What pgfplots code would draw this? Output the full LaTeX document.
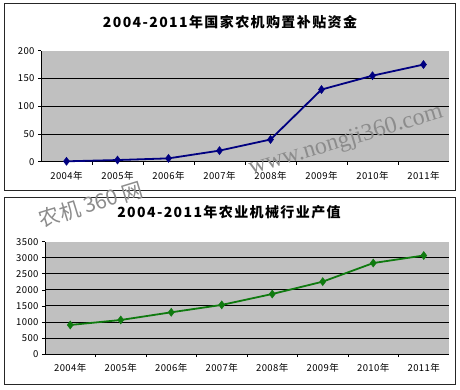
\documentclass[border=0pt]{standalone}
\usepackage{pgfplots}
\pgfplotsset{compat=1.18}
\usepackage{fontspec}
\setmainfont{Liberation Sans}
\newfontfamily\cjk{Noto Sans CJK SC}
\newfontfamily\cjktitle{Noto Sans CJK SC}[LetterSpace=10]
\newfontfamily\cjktick{Noto Sans CJK SC}[LetterSpace=4]
\newfontfamily\wmfont{Liberation Serif}
\definecolor{plotbg}{HTML}{C0C0C0}
\definecolor{navy}{HTML}{000080}
\definecolor{dgreen}{HTML}{0F7A0F}
\pgfplotsset{
  barebase/.style={
    scale only axis,
    axis background/.style={fill=plotbg},
    axis x line*=bottom, axis y line*=left,
    axis line style={black, line width=0.8pt},
    xmin=-0.5, xmax=7.5,
    xtick={0,...,7},
    xticklabels={2004年,2005年,2006年,2007年,2008年,2009年,2010年,2011年},
    major x tick style={draw=none},
    minor xtick={0.5,1.5,...,6.5},
    minor tick length=3pt,
    tick align=outside,
    major tick length=3pt,
    tick style={black, line width=0.6pt},
    tick label style={font=\cjktick\fontsize{9.5}{11}\selectfont},
    /pgf/number format/assume math mode=true,
    /pgf/number format/1000 sep={},
    extra y tick labels={},
    extra y tick style={grid=major, major tick length=0pt, tick style={draw=none}},
    major grid style={black, line width=0.8pt},
    xticklabel style={yshift=-3pt},
    clip=false,
  }
}
\begin{document}
\begin{tikzpicture}
\useasboundingbox (0,0) rectangle (460pt,389pt);
% frames
\draw[black!85, line width=0.8pt] (4pt,386pt) rectangle (455pt,199pt);
\draw[black!85, line width=0.8pt] (4pt,192pt) rectangle (455pt,5pt);
% titles
\node[font=\cjktitle\bfseries\fontsize{14}{16}\selectfont] at (230pt,367pt) {2004-2011年国家农机购置补贴资金};
\node[font=\cjktitle\bfseries\fontsize{14}{16}\selectfont] at (229pt,177pt) {2004-2011年农业机械行业产值};
% top axis
\begin{axis}[barebase,
  at={(41pt,227.3pt)}, anchor=south west,
  width=408pt, height=111pt,
  ymin=0, ymax=200, ytick={0,50,100,150,200},
  extra y ticks={50,100,150},
]
\addplot[navy, line width=1.8pt, mark=diamond*, mark size=4pt, mark options={fill=navy, draw=navy, line width=0.5pt}]
coordinates {(0,0.7) (1,3) (2,6) (3,20) (4,40) (5,130) (6,155) (7,175)};
\end{axis}
% bottom axis
\begin{axis}[barebase,
  at={(45pt,35pt)}, anchor=south west,
  width=404pt, height=112.3pt,
  ymin=0, ymax=3500, ytick={0,500,...,3500},
  extra y ticks={500,1000,...,3000},
]
\addplot[dgreen, line width=1.8pt, mark=diamond*, mark size=4pt, mark options={fill=dgreen, draw=dgreen, line width=0.5pt}]
coordinates {(0,905) (1,1060) (2,1300) (3,1530) (4,1870) (5,2255) (6,2835) (7,3070)};
\end{axis}
% watermarks
\node[rotate=16.6, text=black!45, font=\wmfont\fontsize{24}{26}\selectfont] at (346pt,248pt) {www.nongji360.com};
\node[rotate=17, text=black!45, font=\cjk\fontsize{21}{24}\selectfont] at (91pt,185pt) {农机 360 网};
\end{tikzpicture}
\end{document}
